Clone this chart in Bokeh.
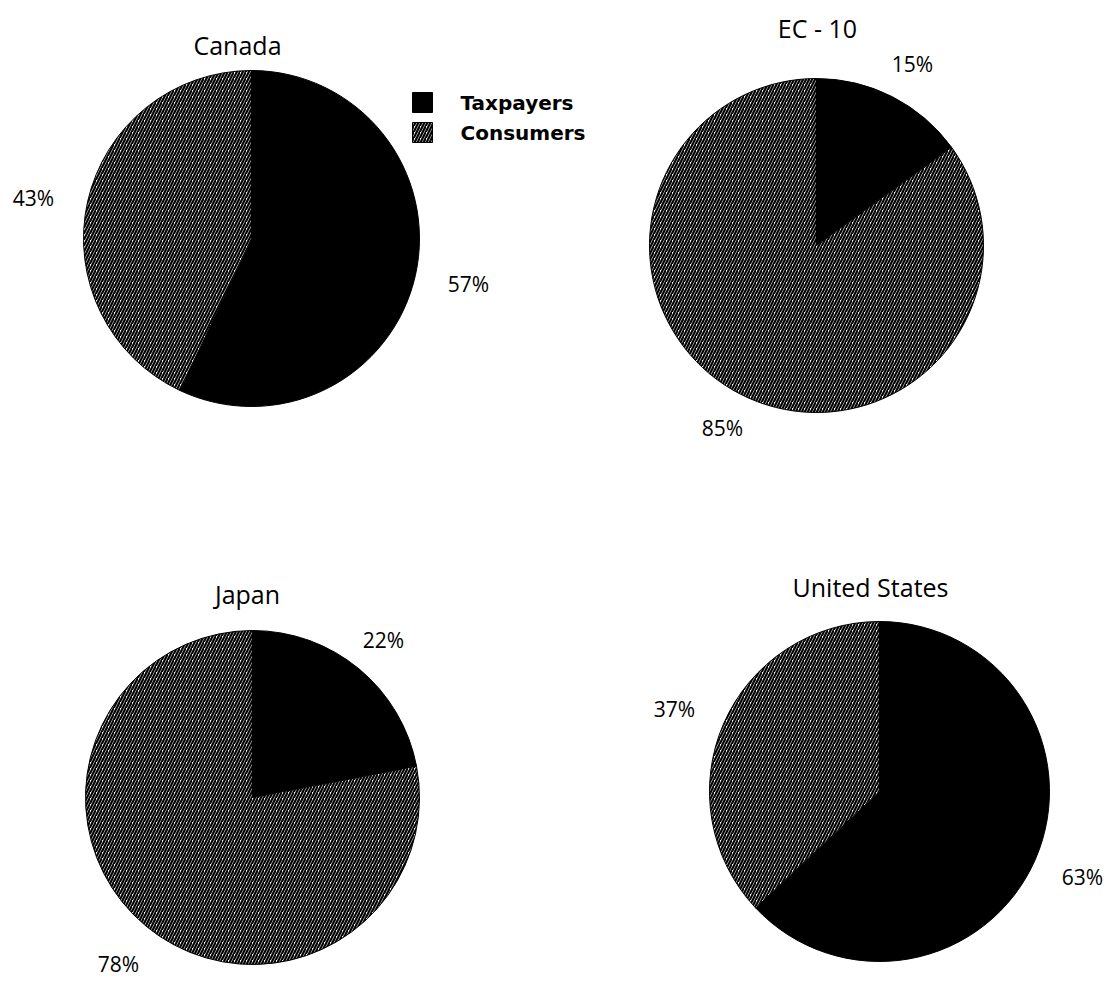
import numpy as np
from bokeh.plotting import figure
from bokeh.models import ColumnDataSource, Range1d
from bokeh.embed import file_html
from bokeh.resources import INLINE
from bokeh.core.properties import value

# Share of agricultural support paid by taxpayers vs. consumers (%)
countries = ["Canada", "EC - 10", "Japan", "United States"]
taxpayers = [57, 15, 22, 63]
consumers = [43, 85, 78, 37]
series = ["Taxpayers", "Consumers"]

W, H = 1119, 983

# Layout in page pixels (x from left, y from top)
centres = [(251, 238), (816, 245), (252, 797), (879, 791)]
radii = [168, 167, 167, 170]
title_pos = [(237, 44), (817, 27), (247, 593), (870, 586)]
tax_label_pos = [(468, 283), (912, 63), (383, 639), (1082, 876)]
con_label_pos = [(33, 197), (722, 427), (118, 963), (674, 708)]
legend_box_x, legend_text_x = 422, 460
legend_rows_y = [102, 132]

FONT = value("Open Sans")
HATCH = dict(fill_color="white", hatch_pattern="/", hatch_color="black",
             hatch_scale=6, hatch_weight=2.2)


def fy(y):
    return H - y


p = figure(width=W, height=H, output_backend="svg", toolbar_location=None,
           x_range=Range1d(0, W), y_range=Range1d(0, H),
           x_axis_type=None, y_axis_type=None, min_border=0,
           outline_line_color=None, background_fill_color="white",
           border_fill_color="white")
p.grid.visible = False

# Wedges start at 12 o'clock and run clockwise: taxpayers first, then consumers
top = np.pi / 2
tax_end = [top - 2 * np.pi * t / 100 for t in taxpayers]
con_end = [e - 2 * np.pi * c / 100 for e, c in zip(tax_end, consumers)]
cx = [c[0] for c in centres]
cy = [fy(c[1]) for c in centres]

tax_src = ColumnDataSource(dict(x=cx, y=cy, r=radii,
                                start=[top] * 4, end=tax_end))
con_src = ColumnDataSource(dict(x=cx, y=cy, r=radii,
                                start=tax_end, end=con_end))

p.wedge(x="x", y="y", radius="r", start_angle="start", end_angle="end",
        direction="clock", source=tax_src, fill_color="black",
        line_color="black", line_width=1)
p.wedge(x="x", y="y", radius="r", start_angle="start", end_angle="end",
        direction="clock", source=con_src, line_color="black", line_width=1,
        **HATCH)

# Titles
p.text(x=[t[0] for t in title_pos], y=[fy(t[1]) for t in title_pos],
       text=countries, text_font=FONT, text_font_size="25px",
       text_align="center", text_baseline="middle", text_color="black")

# Percentage labels
p.text(x=[t[0] for t in tax_label_pos], y=[fy(t[1]) for t in tax_label_pos],
       text=[f"{v}%" for v in taxpayers], text_font=FONT,
       text_font_size="21px", text_align="center", text_baseline="middle",
       text_color="black")
p.text(x=[t[0] for t in con_label_pos], y=[fy(t[1]) for t in con_label_pos],
       text=[f"{v}%" for v in consumers], text_font=FONT,
       text_font_size="21px", text_align="center", text_baseline="middle",
       text_color="black")

# Legend
p.rect(x=[legend_box_x], y=[fy(legend_rows_y[0])], width=20, height=20,
       width_units="screen", height_units="screen",
       fill_color="black", line_color="black")
p.rect(x=[legend_box_x], y=[fy(legend_rows_y[1])], width=20, height=20,
       width_units="screen", height_units="screen",
       line_color="black", line_width=1, **HATCH)
p.text(x=[legend_text_x] * 2, y=[fy(v) for v in legend_rows_y], text=series,
       text_font=value("DejaVu Sans"), text_font_style="bold",
       text_font_size="20px", text_align="left", text_baseline="middle",
       text_color="black")

open("out.html", "w").write(file_html(p, INLINE))
